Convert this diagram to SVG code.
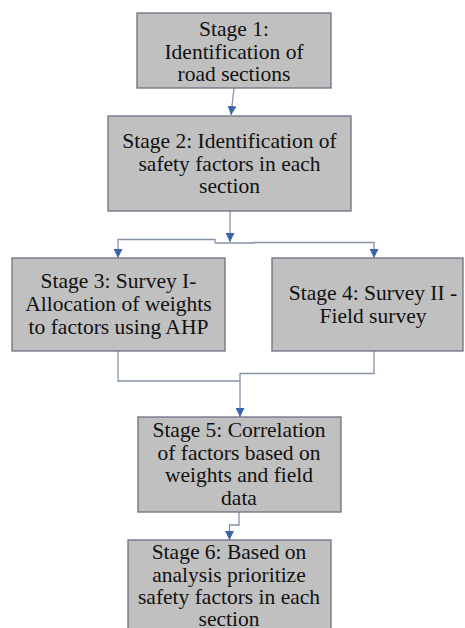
<svg xmlns="http://www.w3.org/2000/svg" width="465" height="628" viewBox="0 0 465 628">
<defs>
<style>
.box{fill:#c0c0c0;stroke:#6b7080;stroke-width:1.3}
.t{font-family:"Liberation Serif","Times New Roman",serif;font-size:21.5px;fill:#111;text-anchor:middle}
.c{fill:none;stroke:#8593a8;stroke-width:1.3}
</style>
<marker id="ah" viewBox="0 0 10 10" refX="10" refY="5" markerWidth="9" markerHeight="9" markerUnits="userSpaceOnUse" orient="auto">
<path d="M0,0 L10,5 L0,10 z" fill="#3a66a8"/>
</marker>
</defs>
<rect width="465" height="628" fill="#fff"/>
<g id="connectors">
<path class="c" d="M234,88 L231,115" marker-end="url(#ah)"/>
<path class="c" d="M230,211 V242" marker-end="url(#ah)"/>
<path class="c" d="M215,243 V239.5 H118 V258" marker-end="url(#ah)"/>
<path class="c" d="M215,243 H254 V242.5 H374 V258" marker-end="url(#ah)"/>
<path class="c" d="M118,351 V381 H240"/>
<path class="c" d="M374,351 V373.5 H240 V417" marker-end="url(#ah)"/>
<path class="c" d="M239,512 V525 H229.5 V540" marker-end="url(#ah)"/>
</g>
<g id="stage1">
<rect class="box" x="137" y="13" width="194" height="75"/>
<text class="t" x="234" y="36">Stage 1:</text>
<text class="t" x="234" y="59">Identification of</text>
<text class="t" x="234" y="81">road sections</text>
</g>
<g id="stage2">
<rect class="box" x="108" y="116" width="243" height="95"/>
<text class="t" x="229.5" y="148">Stage 2: Identification of</text>
<text class="t" x="229.5" y="171">safety factors in each</text>
<text class="t" x="229.5" y="193">section</text>
</g>
<g id="stage3">
<rect class="box" x="12" y="258" width="213" height="93"/>
<text class="t" x="118.5" y="288">Stage 3: Survey I-</text>
<text class="t" x="118.5" y="311">Allocation of weights</text>
<text class="t" x="118.5" y="334">to factors using AHP</text>
</g>
<g id="stage4">
<rect class="box" x="272" y="258" width="191" height="93"/>
<text class="t" x="373" y="300">Stage 4: Survey II -</text>
<text class="t" x="373" y="323">Field survey</text>
</g>
<g id="stage5">
<rect class="box" x="138" y="417" width="203" height="95"/>
<text class="t" x="239" y="437">Stage 5: Correlation</text>
<text class="t" x="239" y="460">of factors based on</text>
<text class="t" x="239" y="482">weights and field</text>
<text class="t" x="239" y="505">data</text>
</g>
<g id="stage6">
<rect class="box" x="128" y="540" width="203" height="100"/>
<text class="t" x="229" y="559">Stage 6: Based on</text>
<text class="t" x="229" y="582">analysis prioritize</text>
<text class="t" x="229" y="604">safety factors in each</text>
<text class="t" x="229" y="626">section</text>
</g>
</svg>
